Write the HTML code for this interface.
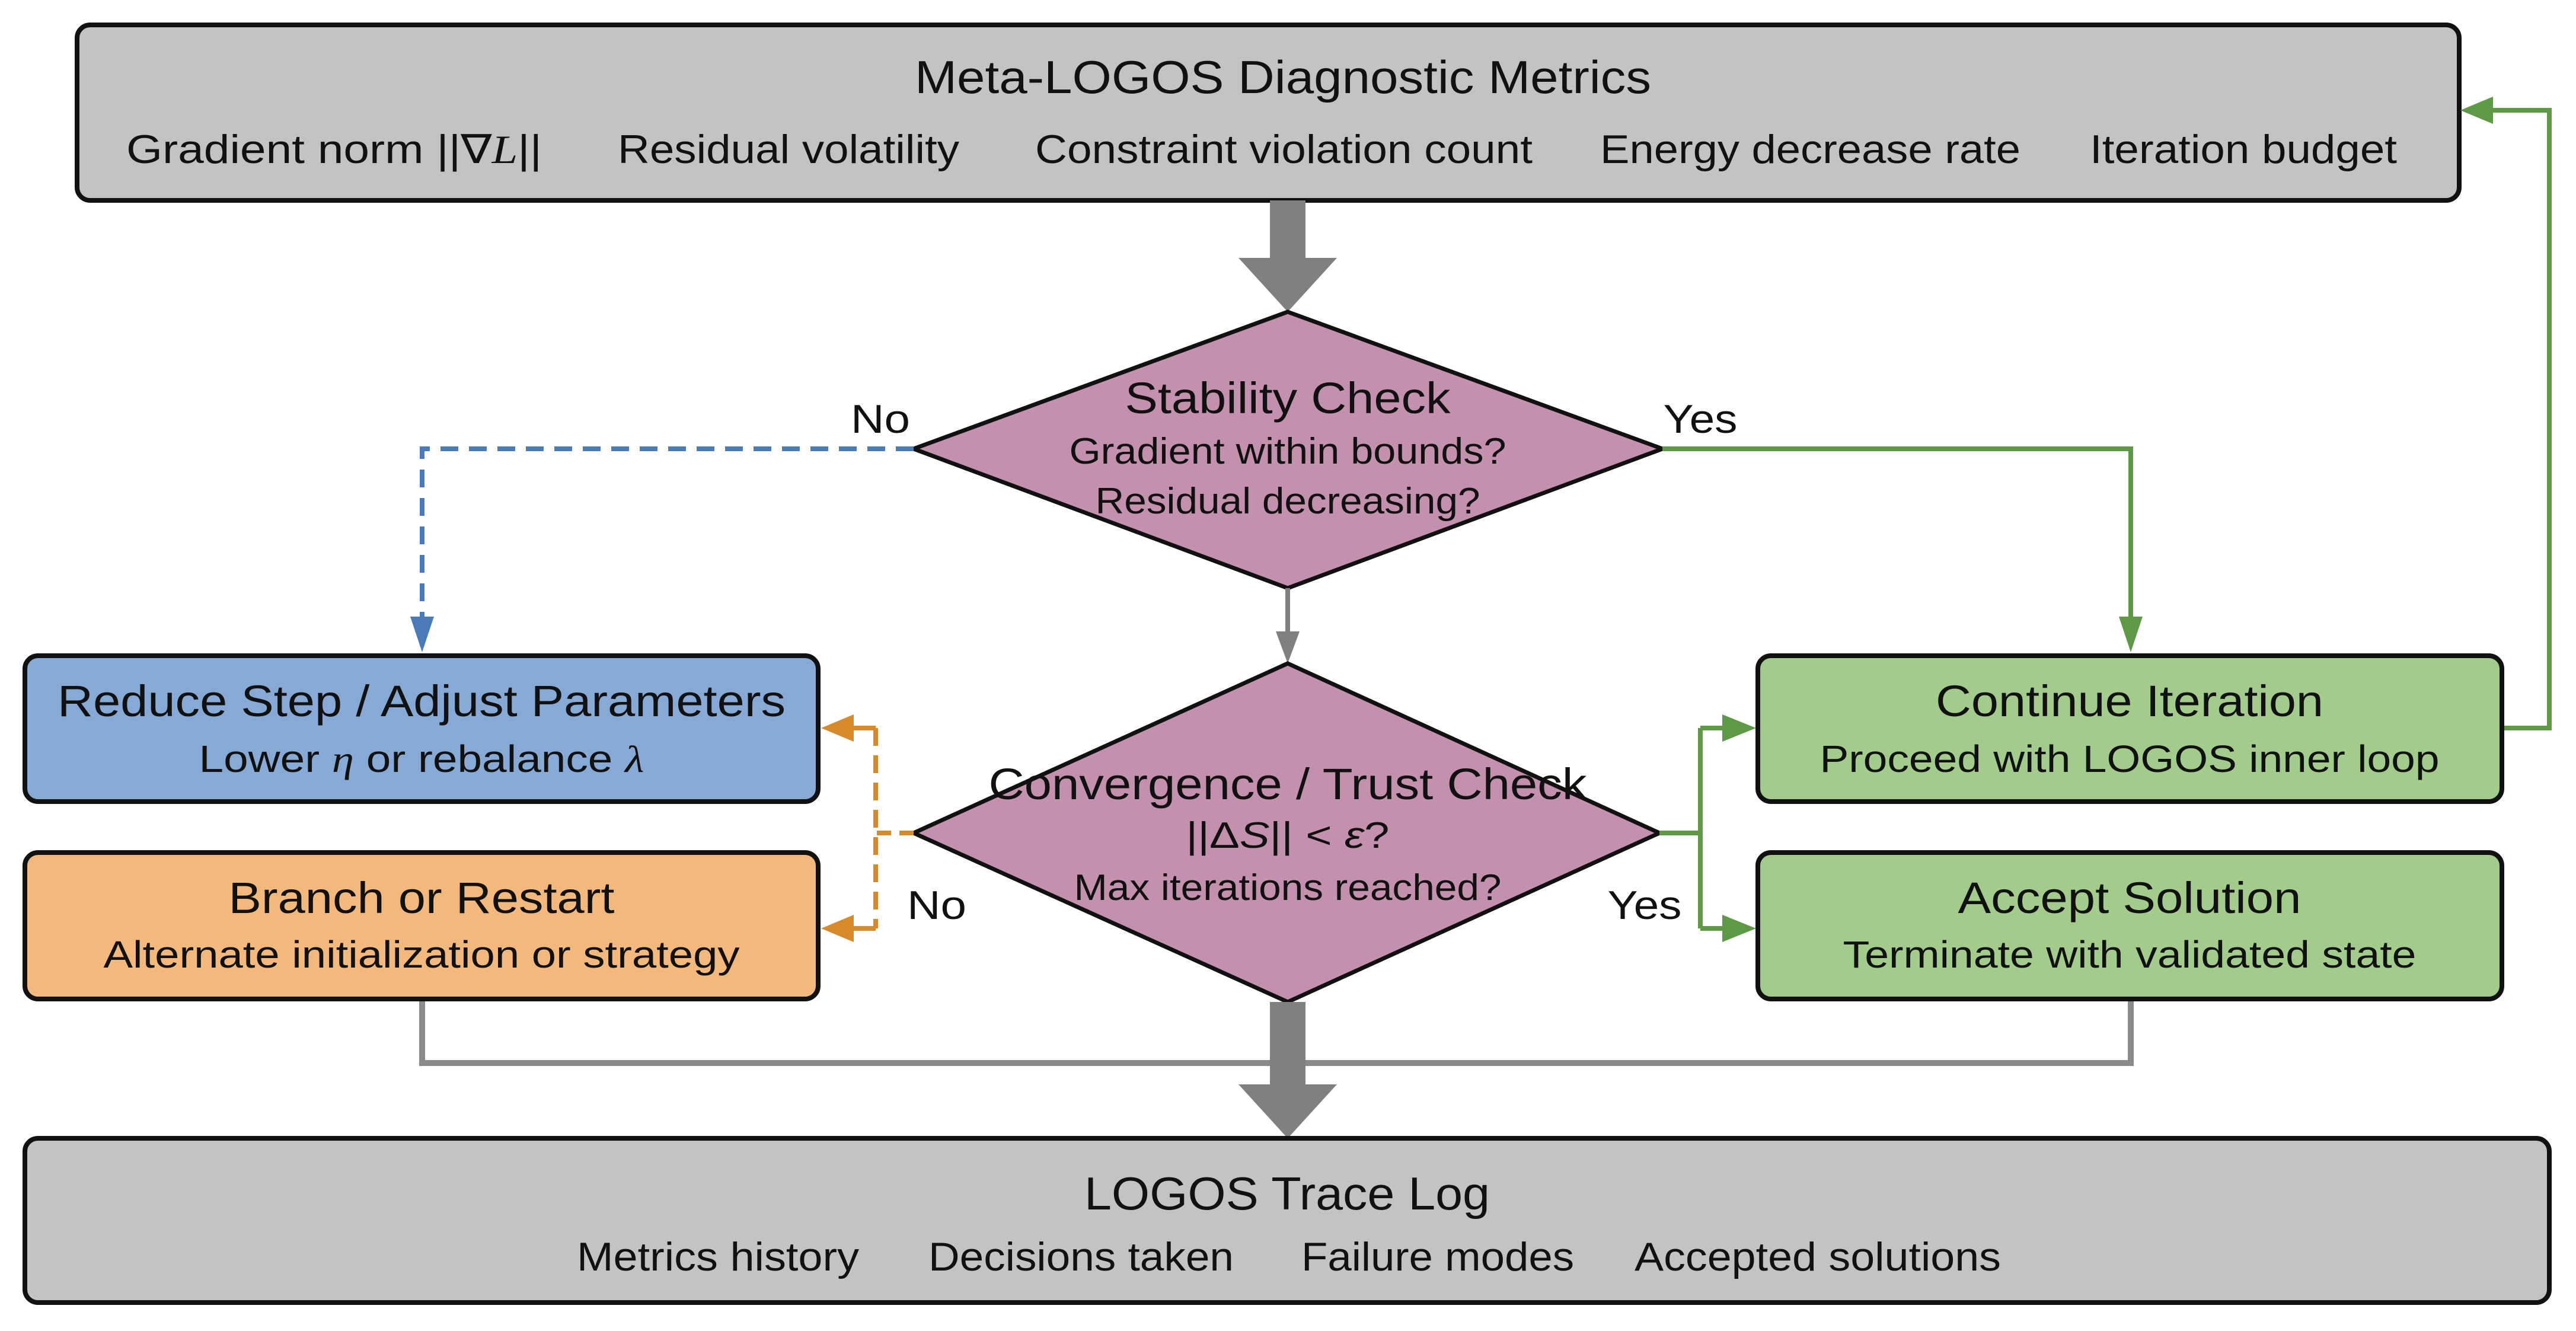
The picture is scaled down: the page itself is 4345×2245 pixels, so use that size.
<!DOCTYPE html>
<html><head><meta charset="utf-8"><style>
html,body{margin:0;padding:0;background:#fff;}
svg{display:block;}
text{font-family:"Liberation Sans",sans-serif;fill:#111;}
</style></head><body>
<svg width="4345" height="2245" viewBox="0 0 4345 2245" xmlns="http://www.w3.org/2000/svg">
<defs>
<marker id="ab" markerWidth="10" markerHeight="10" refX="8" refY="5" orient="auto" markerUnits="userSpaceOnUse" viewBox="0 0 10 10"></marker>
</defs>
<rect width="4345" height="2245" fill="#fff"/>

<!-- Top box -->
<rect x="130" y="42" width="4018" height="296" rx="22" fill="#c3c3c3" stroke="#111" stroke-width="8"/>
<text x="2164" y="157" font-size="78" text-anchor="middle" textLength="1242" lengthAdjust="spacingAndGlyphs">Meta-LOGOS Diagnostic Metrics</text>
<g font-size="68">
<text x="213" y="275" textLength="701" lengthAdjust="spacingAndGlyphs">Gradient norm ||∇<tspan font-family="Liberation Serif" font-style="italic">L</tspan>||</text>
<text x="1042" y="275" textLength="576" lengthAdjust="spacingAndGlyphs">Residual volatility</text>
<text x="1746" y="275" textLength="839" lengthAdjust="spacingAndGlyphs">Constraint violation count</text>
<text x="2699" y="275" textLength="709" lengthAdjust="spacingAndGlyphs">Energy decrease rate</text>
<text x="3525" y="275" textLength="518" lengthAdjust="spacingAndGlyphs">Iteration budget</text>
</g>

<!-- thick arrow top -->
<rect x="2142" y="338" width="60" height="100" fill="#808080"/>
<polygon points="2089,435 2255,435 2172,526" fill="#808080"/>

<!-- Stability diamond -->
<polygon points="2172,526 2804,757 2172,992 1541,757" fill="#c391ad" stroke="#111" stroke-width="7"/>
<text x="2172" y="697" font-size="74" text-anchor="middle" textLength="549" lengthAdjust="spacingAndGlyphs">Stability Check</text>
<text x="2172" y="782" font-size="62" text-anchor="middle" textLength="737" lengthAdjust="spacingAndGlyphs">Gradient within bounds?</text>
<text x="2172" y="866" font-size="62" text-anchor="middle" textLength="649" lengthAdjust="spacingAndGlyphs">Residual decreasing?</text>
<text x="1485" y="730" font-size="68" text-anchor="middle" textLength="100" lengthAdjust="spacingAndGlyphs">No</text>
<text x="2868" y="730" font-size="68" text-anchor="middle" textLength="125" lengthAdjust="spacingAndGlyphs">Yes</text>

<!-- blue dashed -->
<polyline points="1541,757 712,757 712,1040" fill="none" stroke="#4a7ab8" stroke-width="8" stroke-dasharray="30,18"/>
<polygon points="692,1040 732,1040 712,1100" fill="#4a7ab8"/>
<!-- green from stability -->
<polyline points="2804,757 3594,757 3594,1040" fill="none" stroke="#5e9a45" stroke-width="8"/>
<polygon points="3574,1040 3614,1040 3594,1100" fill="#5e9a45"/>
<!-- thin gray -->
<line x1="2172" y1="992" x2="2172" y2="1070" stroke="#808080" stroke-width="8"/>
<polygon points="2152,1065 2192,1065 2172,1119" fill="#808080"/>

<!-- Convergence diamond -->
<polygon points="2172,1119 2799,1405 2172,1690 1541,1405" fill="#c391ad" stroke="#111" stroke-width="7"/>
<text x="2172" y="1348" font-size="74" text-anchor="middle" textLength="1009" lengthAdjust="spacingAndGlyphs">Convergence / Trust Check</text>
<text x="2172" y="1430" font-size="62" text-anchor="middle" textLength="343" lengthAdjust="spacingAndGlyphs" font-family="Liberation Serif">||Δ<tspan font-style="italic">S</tspan>|| &lt; <tspan font-style="italic">ε</tspan>?</text>
<text x="2172" y="1518" font-size="62" text-anchor="middle" textLength="721" lengthAdjust="spacingAndGlyphs">Max iterations reached?</text>
<text x="1580" y="1550" font-size="68" text-anchor="middle" textLength="100" lengthAdjust="spacingAndGlyphs">No</text>
<text x="2774" y="1550" font-size="68" text-anchor="middle" textLength="125" lengthAdjust="spacingAndGlyphs">Yes</text>

<!-- orange dashed -->
<line x1="1541" y1="1405" x2="1477" y2="1405" stroke="#d68a2a" stroke-width="8" stroke-dasharray="24,14"/>
<line x1="1477" y1="1228" x2="1477" y2="1566" stroke="#d68a2a" stroke-width="8" stroke-dasharray="30,16"/>
<line x1="1477" y1="1228" x2="1430" y2="1228" stroke="#d68a2a" stroke-width="8"/>
<line x1="1477" y1="1566" x2="1430" y2="1566" stroke="#d68a2a" stroke-width="8"/>
<polygon points="1440,1205 1440,1251 1385,1228" fill="#d68a2a"/>
<polygon points="1440,1543 1440,1589 1385,1566" fill="#d68a2a"/>

<!-- green from convergence -->
<polyline points="2799,1405 2868,1405" fill="none" stroke="#5e9a45" stroke-width="8"/>
<line x1="2868" y1="1228" x2="2868" y2="1566" stroke="#5e9a45" stroke-width="8"/>
<line x1="2868" y1="1228" x2="2910" y2="1228" stroke="#5e9a45" stroke-width="8"/>
<line x1="2868" y1="1566" x2="2910" y2="1566" stroke="#5e9a45" stroke-width="8"/>
<polygon points="2905,1205 2905,1251 2962,1228" fill="#5e9a45"/>
<polygon points="2905,1543 2905,1589 2962,1566" fill="#5e9a45"/>

<!-- green loop -->
<polyline points="4220,1228 4300,1228 4300,186 4200,186" fill="none" stroke="#5e9a45" stroke-width="8"/>
<polygon points="4205,163 4205,209 4150,186" fill="#5e9a45"/>

<!-- bottom gray connectors -->
<polyline points="712,1685 712,1793 3594,1793 3594,1685" fill="none" stroke="#8a8a8a" stroke-width="10"/>
<rect x="2142" y="1690" width="60" height="145" fill="#808080"/>
<polygon points="2089,1829 2255,1829 2172,1920" fill="#808080"/>

<!-- Left boxes -->
<rect x="42" y="1106" width="1338" height="246" rx="22" fill="#87a9d5" stroke="#111" stroke-width="8"/>
<text x="711" y="1208" font-size="74" text-anchor="middle" textLength="1228" lengthAdjust="spacingAndGlyphs">Reduce Step / Adjust Parameters</text>
<text x="711" y="1302" font-size="64" text-anchor="middle" textLength="751" lengthAdjust="spacingAndGlyphs">Lower <tspan font-family="Liberation Serif" font-style="italic">η</tspan> or rebalance <tspan font-family="Liberation Serif" font-style="italic">λ</tspan></text>

<rect x="42" y="1438" width="1338" height="247" rx="22" fill="#f3b87c" stroke="#111" stroke-width="8"/>
<text x="711" y="1540" font-size="74" text-anchor="middle" textLength="651" lengthAdjust="spacingAndGlyphs">Branch or Restart</text>
<text x="711" y="1632" font-size="64" text-anchor="middle" textLength="1073" lengthAdjust="spacingAndGlyphs">Alternate initialization or strategy</text>

<!-- Right boxes -->
<rect x="2965" y="1106" width="1255" height="246" rx="22" fill="#a3cb8b" stroke="#111" stroke-width="8"/>
<text x="3592" y="1208" font-size="74" text-anchor="middle" textLength="654" lengthAdjust="spacingAndGlyphs">Continue Iteration</text>
<text x="3592" y="1302" font-size="64" text-anchor="middle" textLength="1045" lengthAdjust="spacingAndGlyphs">Proceed with LOGOS inner loop</text>

<rect x="2965" y="1438" width="1255" height="247" rx="22" fill="#a3cb8b" stroke="#111" stroke-width="8"/>
<text x="3592" y="1540" font-size="74" text-anchor="middle" textLength="579" lengthAdjust="spacingAndGlyphs">Accept Solution</text>
<text x="3592" y="1632" font-size="64" text-anchor="middle" textLength="967" lengthAdjust="spacingAndGlyphs">Terminate with validated state</text>

<!-- Log box -->
<rect x="42" y="1920" width="4258" height="277" rx="22" fill="#c3c3c3" stroke="#111" stroke-width="8"/>
<text x="2171" y="2040" font-size="78" text-anchor="middle" textLength="684" lengthAdjust="spacingAndGlyphs">LOGOS Trace Log</text>
<g font-size="68">
<text x="973" y="2143" textLength="476" lengthAdjust="spacingAndGlyphs">Metrics history</text>
<text x="1566" y="2143" textLength="515" lengthAdjust="spacingAndGlyphs">Decisions taken</text>
<text x="2195" y="2143" textLength="460" lengthAdjust="spacingAndGlyphs">Failure modes</text>
<text x="2757" y="2143" textLength="618" lengthAdjust="spacingAndGlyphs">Accepted solutions</text>
</g>
</svg>
</body></html>
